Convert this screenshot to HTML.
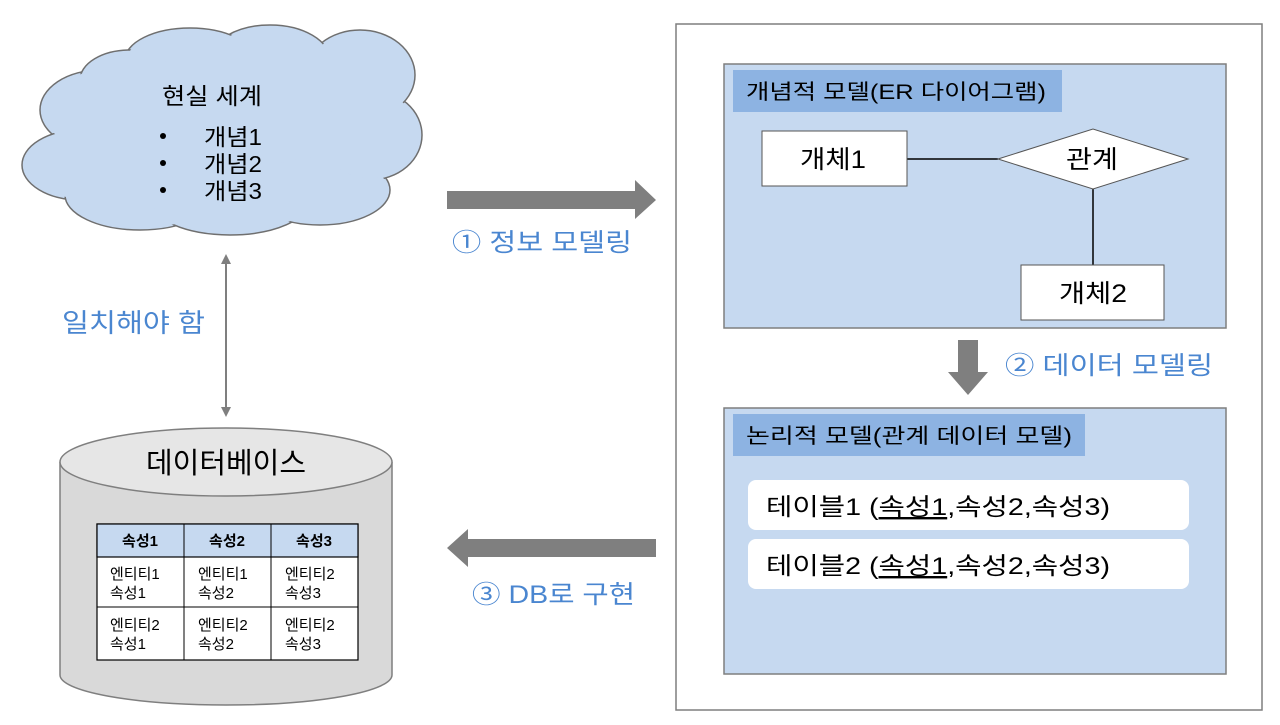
<!DOCTYPE html>
<html><head><meta charset="utf-8"><style>
body{margin:0;background:#fff;width:1280px;height:720px;overflow:hidden}
svg text{font-family:"Liberation Sans","Noto Sans CJK KR",sans-serif}
</style></head><body>
<svg width="1280" height="720" viewBox="0 0 1280 720" xmlns="http://www.w3.org/2000/svg">
<!-- cloud -->
<g stroke="#6f6f6f" stroke-width="1.5" fill="#c6d9f0">
<ellipse cx="100" cy="110" rx="60" ry="40"/>
<ellipse cx="80" cy="165" rx="58" ry="35"/>
<ellipse cx="140" cy="195" rx="75" ry="35"/>
<ellipse cx="230" cy="200" rx="80" ry="35"/>
<ellipse cx="320" cy="190" rx="70" ry="35"/>
<ellipse cx="370" cy="135" rx="52" ry="45"/>
<ellipse cx="360" cy="75" rx="55" ry="45"/>
<ellipse cx="270" cy="60" rx="60" ry="35"/>
<ellipse cx="190" cy="60" rx="65" ry="32"/>
<ellipse cx="130" cy="80" rx="50" ry="30"/>
</g>
<g fill="#c6d9f0">
<ellipse cx="230" cy="130" rx="175" ry="85"/>
<ellipse cx="100" cy="110" rx="58" ry="38"/>
<ellipse cx="80" cy="165" rx="56" ry="33"/>
<ellipse cx="140" cy="195" rx="73" ry="33"/>
<ellipse cx="230" cy="200" rx="78" ry="33"/>
<ellipse cx="320" cy="190" rx="68" ry="33"/>
<ellipse cx="370" cy="135" rx="50" ry="43"/>
<ellipse cx="360" cy="75" rx="53" ry="43"/>
<ellipse cx="270" cy="60" rx="58" ry="33"/>
<ellipse cx="190" cy="60" rx="63" ry="30"/>
<ellipse cx="130" cy="80" rx="48" ry="28"/>
</g>
<text x="162" y="104" font-size="23" textLength="100" lengthAdjust="spacingAndGlyphs">현실 세계</text>
<g font-size="23">
<circle cx="163" cy="136" r="3"/><text x="204" y="145" textLength="58" lengthAdjust="spacingAndGlyphs">개념1</text>
<circle cx="163" cy="163" r="3"/><text x="204" y="172" textLength="58" lengthAdjust="spacingAndGlyphs">개념2</text>
<circle cx="163" cy="190" r="3"/><text x="204" y="199" textLength="58" lengthAdjust="spacingAndGlyphs">개념3</text>
</g>
<!-- double arrow -->
<line x1="226" y1="262" x2="226" y2="410" stroke="#7f7f7f" stroke-width="2"/>
<polygon points="226,254 221,264 231,264" fill="#7f7f7f"/>
<polygon points="226,417 221,407 231,407" fill="#7f7f7f"/>
<text x="62" y="332" font-size="26" fill="#4a86d0" textLength="143" lengthAdjust="spacingAndGlyphs">일치해야 함</text>
<!-- cylinder -->
<path d="M60,462 L60,675 A166,30 0 0 0 392,675 L392,462" fill="#d9d9d9" stroke="#7f7f7f" stroke-width="1.5"/>
<ellipse cx="226" cy="462" rx="166" ry="34" fill="#e6e6e6" stroke="#7f7f7f" stroke-width="1.5"/>
<text x="146" y="473" font-size="29" textLength="160" lengthAdjust="spacingAndGlyphs">데이터베이스</text>
<rect x="97" y="524" width="261" height="136" fill="#fff" stroke="#000" stroke-width="1.2"/>
<rect x="97" y="524" width="261" height="33" fill="#c6d9f0" stroke="#000" stroke-width="1.2"/>
<line x1="184" y1="524" x2="184" y2="660" stroke="#000"/><line x1="271" y1="524" x2="271" y2="660" stroke="#000"/>
<line x1="97" y1="607" x2="358" y2="607" stroke="#000"/>
<g font-size="15" font-weight="bold" text-anchor="middle">
<text x="140" y="546">속성1</text><text x="227" y="546">속성2</text><text x="314" y="546">속성3</text></g>
<g font-size="15">
<text x="110" y="579">엔티티1</text><text x="110" y="598">속성1</text>
<text x="198" y="579">엔티티1</text><text x="198" y="598">속성2</text>
<text x="285" y="579">엔티티2</text><text x="285" y="598">속성3</text>
<text x="110" y="630">엔티티2</text><text x="110" y="649">속성1</text>
<text x="198" y="630">엔티티2</text><text x="198" y="649">속성2</text>
<text x="285" y="630">엔티티2</text><text x="285" y="649">속성3</text>
</g>
<!-- horizontal arrows -->
<polygon points="447,191 635,191 635,180 656,200 635,219 635,209 447,209" fill="#7f7f7f"/>
<text x="452" y="251" font-size="25" fill="#4a86d0" textLength="180" lengthAdjust="spacingAndGlyphs">① 정보 모델링</text>
<polygon points="656,539 468,539 468,529 447,548 468,567 468,557 656,557" fill="#7f7f7f"/>
<text x="472" y="603" font-size="25" fill="#4a86d0" textLength="163" lengthAdjust="spacingAndGlyphs">③ DB로 구현</text>
<!-- right panel -->
<rect x="676" y="24" width="586" height="686" fill="#fff" stroke="#7f7f7f" stroke-width="1.5"/>
<rect x="724" y="64" width="502" height="264" fill="#c6d9f0" stroke="#7f7f7f" stroke-width="1.5"/>
<rect x="733" y="70" width="329" height="42" fill="#8db3e2"/>
<text x="746" y="99" font-size="21" textLength="300" lengthAdjust="spacingAndGlyphs">개념적  모델(ER 다이어그램)</text>
<line x1="907" y1="159" x2="998" y2="159" stroke="#000" stroke-width="1.5"/>
<line x1="1093" y1="188" x2="1093" y2="265" stroke="#000" stroke-width="1.5"/>
<rect x="762" y="131" width="145" height="55" fill="#fff" stroke="#555"/>
<text x="800" y="168" font-size="25" textLength="66" lengthAdjust="spacingAndGlyphs">개체1</text>
<polygon points="998,159 1093,129 1188,159 1093,189" fill="#fff" stroke="#555"/>
<text x="1066" y="168" font-size="25" textLength="52" lengthAdjust="spacingAndGlyphs">관계</text>
<rect x="1021" y="265" width="143" height="55" fill="#fff" stroke="#555"/>
<text x="1059" y="302" font-size="25" textLength="68" lengthAdjust="spacingAndGlyphs">개체2</text>
<polygon points="958,340 978,340 978,372 988,372 968,395 948,372 958,372" fill="#7f7f7f"/>
<text x="1005" y="374" font-size="25" fill="#4a86d0" textLength="208" lengthAdjust="spacingAndGlyphs">② 데이터 모델링</text>
<rect x="724" y="408" width="502" height="266" fill="#c6d9f0" stroke="#7f7f7f" stroke-width="1.5"/>
<rect x="733" y="414" width="352" height="42" fill="#8db3e2"/>
<text x="746" y="443" font-size="21" textLength="326" lengthAdjust="spacingAndGlyphs">논리적 모델(관계 데이터 모델)</text>
<rect x="748" y="480" width="441" height="50" rx="8" fill="#fff"/>
<rect x="748" y="539" width="441" height="50" rx="8" fill="#fff"/>
<text x="766" y="515" font-size="24" textLength="344" lengthAdjust="spacingAndGlyphs">테이블1 (<tspan text-decoration="underline">속성1</tspan>,속성2,속성3)</text>
<text x="766" y="574" font-size="24" textLength="344" lengthAdjust="spacingAndGlyphs">테이블2 (<tspan text-decoration="underline">속성1</tspan>,속성2,속성3)</text>
</svg>
</body></html>
